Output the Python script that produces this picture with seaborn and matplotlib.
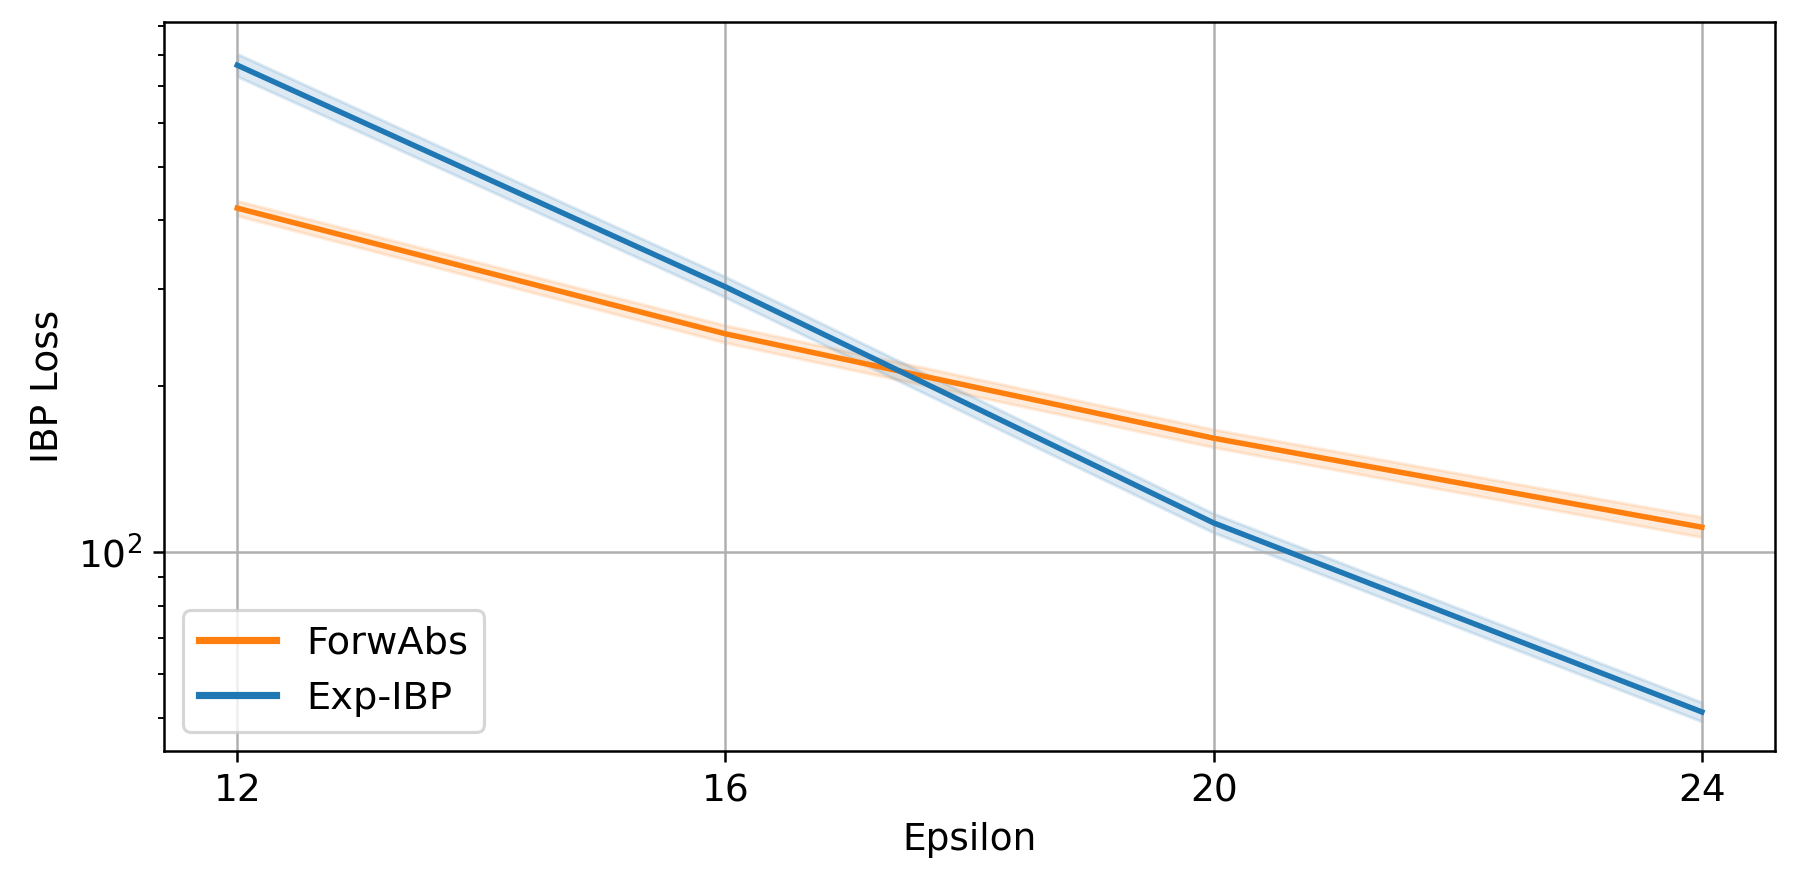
import matplotlib
matplotlib.use("Agg")
import matplotlib.pyplot as plt
import pandas as pd
import seaborn as sns

# Data
epsilon = [12, 16, 20, 24]

exp_ibp = [765, 303, 113, 51.3]
exp_ibp_lo = [730, 290, 108.5, 49.3]
exp_ibp_hi = [802, 316, 117.5, 53.4]

forwabs = [421, 249, 161, 111]
forwabs_lo = [408, 240, 155, 106.5]
forwabs_hi = [434, 258, 167, 115.8]

df = pd.DataFrame({
    "Epsilon": epsilon * 2,
    "IBP Loss": forwabs + exp_ibp,
    "method": ["ForwAbs"] * 4 + ["Exp-IBP"] * 4,
})

plt.rcParams["font.size"] = 12
fig, ax = plt.subplots(figsize=(1799 / 225, 884 / 225), dpi=225)
fig.subplots_adjust(left=0.0912, right=0.9867, top=0.975, bottom=0.150)

palette = {"ForwAbs": "#ff7f0e", "Exp-IBP": "#1f77b4"}
sns.lineplot(data=df, x="Epsilon", y="IBP Loss", hue="method",
             palette=palette, linewidth=1.75, ax=ax)

# Shaded bands
ax.fill_between(epsilon, forwabs_lo, forwabs_hi, color="#ff7f0e", alpha=0.15)
ax.fill_between(epsilon, exp_ibp_lo, exp_ibp_hi, color="#1f77b4", alpha=0.15)

ax.set_yscale("log")
ax.set_ylim(43.5, 916)
ax.set_xticks(epsilon)
ax.grid(True)
ax.set_xlabel("Epsilon")
ax.set_ylabel("IBP Loss")

leg = ax.legend(loc="lower left", fontsize=12.3)
for line in leg.get_lines():
    line.set_linewidth(2.3)

fig.savefig("out.png", dpi=225)
